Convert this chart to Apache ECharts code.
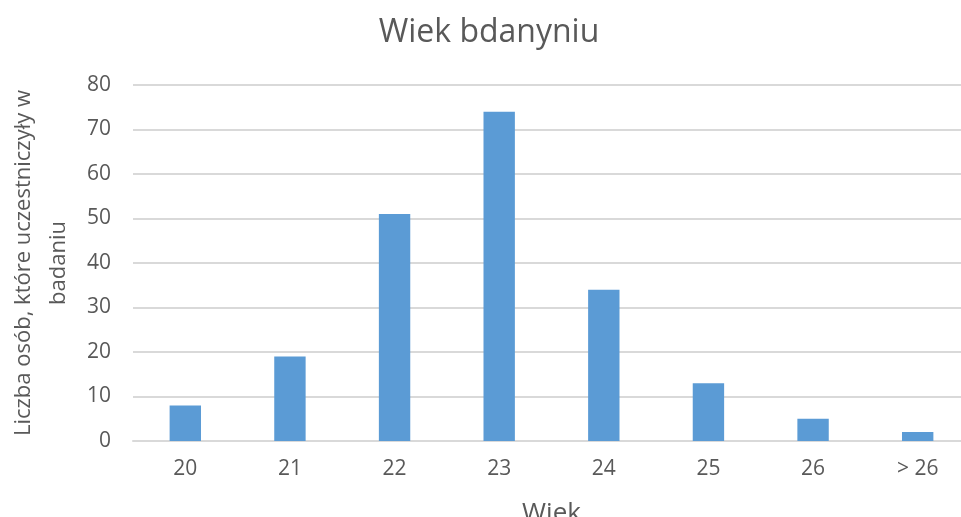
<!DOCTYPE html>
<html>
<head>
<meta charset="utf-8">
<script src="https://cdn.jsdelivr.net/npm/echarts@6/dist/echarts.min.js"></script>
<style>
  html, body { margin: 0; padding: 0; background: #fff; }
  #main { width: 961px; height: 517px; }
</style>
</head>
<body>
<div id="main"></div>
<script>
// dane z wykresu
const categories = ['20', '21', '22', '23', '24', '25', '26', '> 26'];
const counts = [8, 19, 51, 74, 34, 13, 5, 2];
const yTicks = { min: 0, max: 80, step: 10 };

const textColor = '#595959';
const font = '"Open Sans", "Noto Sans", sans-serif';

const myChart = echarts.init(document.getElementById('main'));
const option = {
    backgroundColor: '#fff',
    animation: false,
    title: {
        text: 'Wiek bdanyniu',
        left: 484, // środek nad obszarem wykresu
        top: 12,
        textAlign: 'center',
        textStyle: { color: textColor, fontSize: 32, fontWeight: 'normal', fontFamily: font }
    },
    grid: { left: 133, top: 85, width: 837, height: 356, containLabel: false, outerBoundsMode: 'none' },
    xAxis: {
        type: 'category',
        data: categories,
        name: 'Wiek',
        nameLocation: 'middle',
        nameGap: 60,
        nameTextStyle: { color: textColor, fontSize: 26, fontFamily: font },
        axisLine: { lineStyle: { color: '#d9d9d9', width: 2 } },
        axisTick: { show: false },
        axisLabel: { color: textColor, fontSize: 21, margin: 18, fontFamily: font }
    },
    yAxis: {
        type: 'value',
        min: yTicks.min,
        max: yTicks.max,
        interval: yTicks.step,
        name: 'Liczba osób, które uczestniczyły w\nbadaniu',
        nameLocation: 'middle',
        nameGap: 55,
        nameRotate: 90,
        nameTextStyle: { color: textColor, fontSize: 22, lineHeight: 35, fontFamily: font },
        axisLine: { show: false },
        axisTick: { show: false },
        axisLabel: { color: textColor, fontSize: 21, margin: 22, fontFamily: font },
        splitLine: { lineStyle: { color: '#d9d9d9', width: 2 } }
    },
    series: [{
        name: 'Liczba osób',
        type: 'bar',
        data: counts,
        barWidth: '30%',
        itemStyle: { color: '#5b9bd5' }
    }]
};
myChart.setOption(option);
</script>
</body>
</html>
